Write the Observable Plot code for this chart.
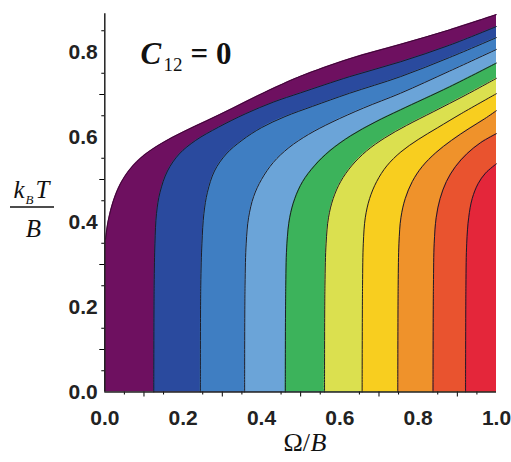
<!DOCTYPE html>
<html>
<head>
<meta charset="utf-8">
<script src="https://cdn.jsdelivr.net/npm/d3@7"></script>
<script src="https://cdn.jsdelivr.net/npm/@observablehq/plot@0.6"></script>
<style>
  html, body { margin: 0; padding: 0; background: #fff; }
  #chart svg { display: block; }
</style>
</head>
<body>
<div id="chart"></div>
<script>
// Contour edges of the C12 = 0 map, as [Ω/B, kBT/B] pairs ordered by temperature.
// edgeTop is the outer limit of the coloured region; edge1..edge9 separate the bands.
const edgeTop = [[0,0],[0,0.3],[0.002,0.36],[0.009,0.404],[0.022,0.45],[0.04,0.49],[0.065,0.525],[0.1,0.557],[0.145,0.585],[0.2,0.612],[0.26,0.638],[0.325,0.667],[0.39,0.697],[0.45,0.723],[0.5,0.743],[0.625,0.784],[0.755,0.818],[0.88,0.852],[1,0.888]];
const edge1 = [[0.125,0],[0.126,0.25],[0.128,0.35],[0.132,0.42],[0.141,0.47],[0.16,0.52],[0.19,0.56],[0.232,0.592],[0.29,0.623],[0.36,0.655],[0.43,0.682],[0.5,0.704],[0.625,0.742],[0.755,0.777],[0.88,0.816],[1,0.86]];
const edge2 = [[0.244,0],[0.245,0.25],[0.248,0.35],[0.253,0.42],[0.262,0.47],[0.28,0.52],[0.31,0.56],[0.35,0.592],[0.4,0.622],[0.46,0.648],[0.53,0.672],[0.625,0.703],[0.755,0.742],[0.88,0.787],[1,0.834]];
const edge3 = [[0.357,0],[0.358,0.25],[0.361,0.35],[0.367,0.41],[0.38,0.46],[0.4,0.5],[0.43,0.54],[0.47,0.575],[0.52,0.606],[0.58,0.635],[0.66,0.668],[0.755,0.703],[0.88,0.755],[1,0.806]];
const edge4 = [[0.461,0],[0.462,0.25],[0.465,0.35],[0.472,0.41],[0.485,0.455],[0.505,0.495],[0.535,0.532],[0.575,0.568],[0.628,0.603],[0.69,0.635],[0.755,0.664],[0.88,0.718],[1,0.774]];
const edge5 = [[0.561,0],[0.562,0.25],[0.565,0.35],[0.571,0.41],[0.583,0.455],[0.602,0.495],[0.63,0.532],[0.668,0.567],[0.715,0.598],[0.77,0.627],[0.84,0.66],[0.92,0.698],[1,0.738]];
const edge6 = [[0.657,0],[0.658,0.25],[0.66,0.35],[0.665,0.41],[0.676,0.455],[0.694,0.495],[0.72,0.532],[0.756,0.565],[0.8,0.594],[0.85,0.622],[0.91,0.655],[1,0.702]];
const edge7 = [[0.748,0],[0.749,0.25],[0.751,0.35],[0.756,0.41],[0.767,0.455],[0.785,0.495],[0.81,0.53],[0.845,0.563],[0.885,0.592],[0.93,0.62],[0.97,0.643],[1,0.662]];
const edge8 = [[0.838,0],[0.839,0.25],[0.841,0.35],[0.846,0.41],[0.856,0.455],[0.872,0.495],[0.895,0.53],[0.925,0.561],[0.96,0.587],[1,0.608]];
const edge9 = [[0.921,0],[0.922,0.25],[0.924,0.35],[0.929,0.41],[0.938,0.455],[0.953,0.49],[0.972,0.515],[1,0.537]];

// Fill to the right of each edge, from the outermost band inwards.
const bandColors = ["#6e1060", "#2a4a9e", "#3f7ec2", "#6ba4d8", "#3cb35b", "#dbe04f", "#f8ce1f", "#ef922b", "#e9532f", "#e4263a"];

// Axis ticks
const xMajor = [0, 0.2, 0.4, 0.6, 0.8, 1.0];
const xMid = [0.1, 0.3, 0.5, 0.7, 0.9];
const xMinor = [0.05, 0.15, 0.25, 0.35, 0.45, 0.55, 0.65, 0.75, 0.85, 0.95];
const yMajor = [0, 0.2, 0.4, 0.6, 0.8];
const yMid = [0.1, 0.3, 0.5, 0.7];
const yMinor = [0.05, 0.15, 0.25, 0.35, 0.45, 0.55, 0.65, 0.75, 0.85];
const yTop = 0.89;

const W = 511, H = 462;
const ML = 104.3, MR = 15, MT = 13.25, MB = 70.5;

const edges = [edgeTop, edge1, edge2, edge3, edge4, edge5, edge6, edge7, edge8, edge9];
const px = d => d[0];
const py = d => d[1];
const curve = "catmull-rom";

// Text placed relative to the top-left corner of the frame (baseline at the given point).
function note(str, x, y, opts = {}) {
  return Plot.text([str], {
    text: d => d,
    frameAnchor: "top-left",
    dx: x - ML,
    dy: y - MT,
    lineAnchor: "bottom",
    textAnchor: "start",
    fill: "#111",
    ...opts
  });
}
const serif = "Liberation Serif, Times New Roman, serif";
const tickFont = {fontSize: 21, fontWeight: "bold", fill: "#222", stroke: null};

const bands = edges.map((e, i) => Plot.areaX(e, {
  y: py, x1: px, x2: () => 1, fill: bandColors[i], curve
}));
const lines = edges.slice(1).map(e => Plot.line(e, {
  x: px, y: py, curve, stroke: "#1c1c28", strokeWidth: 1
}));

const chart = Plot.plot({
  width: W,
  height: H,
  marginLeft: ML,
  marginRight: MR,
  marginTop: MT,
  marginBottom: MB,
  style: {fontFamily: "Liberation Sans, Arial, sans-serif", background: "#fff", overflow: "visible"},
  x: {domain: [0, 1]},
  y: {domain: [0, yTop]},
  marks: [
    ...bands,
    Plot.line(edgeTop.filter(d => d[1] > 0.3), {x: px, y: py, curve, stroke: "#3d0735", strokeWidth: 1}),
    ...lines,
    // axes
    Plot.axisX(xMajor, {tickSize: 5, tickPadding: 13, tickFormat: d => d.toFixed(1), label: null, ...tickFont}),
    Plot.axisX(xMid, {tickSize: 5, tickFormat: () => "", label: null}),
    Plot.axisX(xMinor, {tickSize: 3, tickFormat: () => "", label: null}),
    Plot.axisY(yMajor, {tickSize: 5, tickPadding: 2, tickFormat: d => d.toFixed(1), label: null, ...tickFont}),
    Plot.axisY(yMid, {tickSize: 5, tickFormat: () => "", label: null}),
    Plot.axisY(yMinor, {tickSize: 3, tickFormat: () => "", label: null}),
    Plot.ruleY([0], {x1: 0, x2: 1, stroke: "#222", strokeWidth: 1.5}),
    Plot.ruleX([0], {y1: 0, y2: yTop, stroke: "#222", strokeWidth: 1.5}),
    // in-plot annotation C12 = 0
    note("C", 140, 63, {fontFamily: serif, fontSize: 31, fontStyle: "italic", fontWeight: "bold"}),
    note("12", 163, 70, {fontFamily: serif, fontSize: 19}),
    note("= 0", 190, 63, {fontFamily: serif, fontSize: 31, fontWeight: "bold"}),
    // x label Ω/B
    note("Ω/", 283, 450, {fontFamily: serif, fontSize: 26}),
    note("B", 310, 450, {fontFamily: serif, fontSize: 26, fontStyle: "italic"}),
    // y label kBT / B
    note("k", 13, 197, {fontFamily: serif, fontSize: 25, fontStyle: "italic"}),
    note("B", 25, 203, {fontFamily: serif, fontSize: 13, fontStyle: "italic"}),
    note("T", 35, 197, {fontFamily: serif, fontSize: 25, fontStyle: "italic"}),
    note("B", 33, 236, {fontFamily: serif, fontSize: 25, fontStyle: "italic", textAnchor: "middle"})
  ]
});

// fraction bar of the y label
d3.select(chart).append("line")
  .attr("x1", 10).attr("x2", 54)
  .attr("y1", 207).attr("y2", 207)
  .attr("stroke", "#111").attr("stroke-width", 1.5);

document.getElementById("chart").append(chart);
</script>
</body>
</html>
